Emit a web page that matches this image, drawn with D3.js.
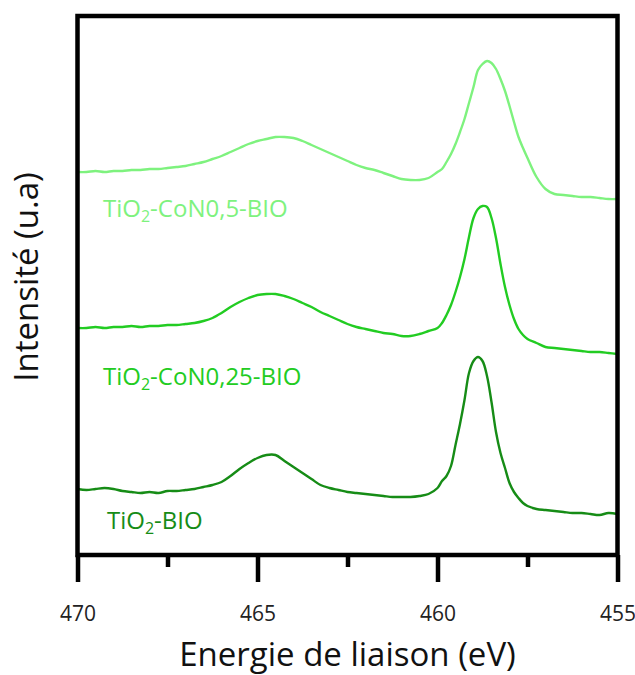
<!DOCTYPE html>
<html><head><meta charset="utf-8">
<script src="https://cdn.jsdelivr.net/npm/d3@7"></script>
<style>html,body{margin:0;padding:0;background:#fff;}svg{display:block;}</style>
</head><body>
<svg id="chart" width="635" height="675"></svg>
<script>
// Binding energy grid (eV)
const energy = [
 470,469.75,469.5,469.25,469,468.75,468.5,468.25,468,467.75,467.5,467.25,467,466.75,466.5,466.25,466,465.75,465.5,465.25,
 465,464.75,464.5,464.25,464,463.75,463.5,463.25,463,462.75,462.5,462.25,462,461.75,461.5,461.25,461,460.75,460.5,460.25,
 460,459.875,459.75,459.625,459.5,459.375,459.25,459.125,459,458.875,458.75,458.625,458.5,458.375,458.25,458.125,458,457.875,457.75,457.625,457.5,
 457.25,457,456.75,456.5,456.25,456,455.75,455.5,455.25,455
];
// Intensities (a.u., offset stacked)
const tio2CoN05 = [
 383,383,384,383,384,384,385,385,386,386,387,388,389,391,393,396,399,403,407,411,
 414,416,418,418,417,414,410,406,402,398,394,390,387,385,382,379,376,375,375,377,
 383,386,393,401,411,423,436,452,468,485,491,494,492,486,476,464,449,433,418,407,397,
 378,366,361,360,359,358,358,357,356,356
];
const tio2CoN025 = [
 227,227,228,227,228,228,229,228,229,229,230,230,231,232,234,237,242,248,253,257,
 260,261,261,259,256,252,248,243,239,235,231,228,226,224,222,221,219,219,221,224,
 227,232,240,250,263,278,296,318,337,346,349,348,337,317,291,268,250,236,226,220,216,
 212,208,207,206,205,204,203,203,202,201
];
const tio2BIO = [
 66,65,66,67,66,64,63,62,63,62,64,64,65,66,68,70,73,79,86,92,
 97,100,100,94,88,82,76,70,67,65,63,62,61,60,59,58,58,58,59,61,
 67,74,79,89,110,131,155,182,194,198,194,179,153,123,102,87,72,63,57,52,49,
 46,45,44,43,42,42,41,40,42,41
];
const seriesNames = ["TiO2-CoN0,5-BIO","TiO2-CoN0,25-BIO","TiO2-BIO"];
const seriesColors = ["#7ef27e","#22cc22","#168c16"];
const majorTicks = [470,465,460,455];
const minorTicks = [467.5,462.5,457.5];
const xTitle = "Energie de liaison (eV)";
const yTitle = "Intensité (u.a)";

const svg = d3.select("#chart");
const L = 77.5, R = 617.5, T = 16, B = 555;
const x = d3.scaleLinear().domain([470,455]).range([L,R]);
const y = d3.scaleLinear().domain([0,539]).range([B,T]);
const font = "'Open Sans', sans-serif";

const series = [tio2CoN05, tio2CoN025, tio2BIO];
const line = d3.line().x(d => x(d[0])).y(d => y(d[1])).curve(d3.curveCatmullRom.alpha(0.5));
series.forEach((vals, k) => {
  svg.append("path")
    .datum(energy.map((e,i) => [e, vals[i]]))
    .attr("fill","none").attr("stroke",seriesColors[k]).attr("stroke-width",2.4)
    .attr("stroke-linejoin","round")
    .attr("d", line);
});

// Frame
svg.append("rect").attr("x",L).attr("y",T).attr("width",R-L).attr("height",B-T)
  .attr("fill","none").attr("stroke","#000").attr("stroke-width",4.5);

// Axis
const axis = d3.axisBottom(x).tickValues(majorTicks).tickSize(27).tickPadding(0).tickFormat(d3.format("d"));
const gx = svg.append("g").attr("transform",`translate(0,${B})`).call(axis);
gx.select(".domain").remove();
gx.selectAll(".tick line").attr("stroke","#000").attr("stroke-width",4.5);
gx.selectAll(".tick text").attr("font-family",font).attr("font-size",21).attr("fill","#222")
  .attr("y",66).attr("dy",0);
const minorAxis = d3.axisBottom(x).tickValues(minorTicks).tickSize(12).tickFormat("");
const gm = svg.append("g").attr("transform",`translate(0,${B})`).call(minorAxis);
gm.select(".domain").remove();
gm.selectAll(".tick line").attr("stroke","#000").attr("stroke-width",4.5);

// Titles
svg.append("text").attr("x",(L+R)/2).attr("y",666).attr("text-anchor","middle")
  .attr("font-family",font).attr("font-size",33).attr("fill","#111").text(xTitle);
svg.append("text").attr("transform","translate(38,277) rotate(-90)").attr("text-anchor","middle")
  .attr("font-family",font).attr("font-size",33).attr("fill","#111").text(yTitle);

// Series labels
const labelPos = [[103,217],[103,385],[107,529]];
seriesNames.forEach((name,k) => {
  const t = svg.append("text").attr("x",labelPos[k][0]).attr("y",labelPos[k][1])
    .attr("font-family",font).attr("font-size",24).attr("fill",seriesColors[k]);
  const parts = name.split("2");
  t.append("tspan").text(parts[0]);
  t.append("tspan").attr("font-size",16).attr("dy",5).text("2");
  t.append("tspan").attr("dy",-5).text(parts.slice(1).join("2"));
});
</script>
</body></html>
